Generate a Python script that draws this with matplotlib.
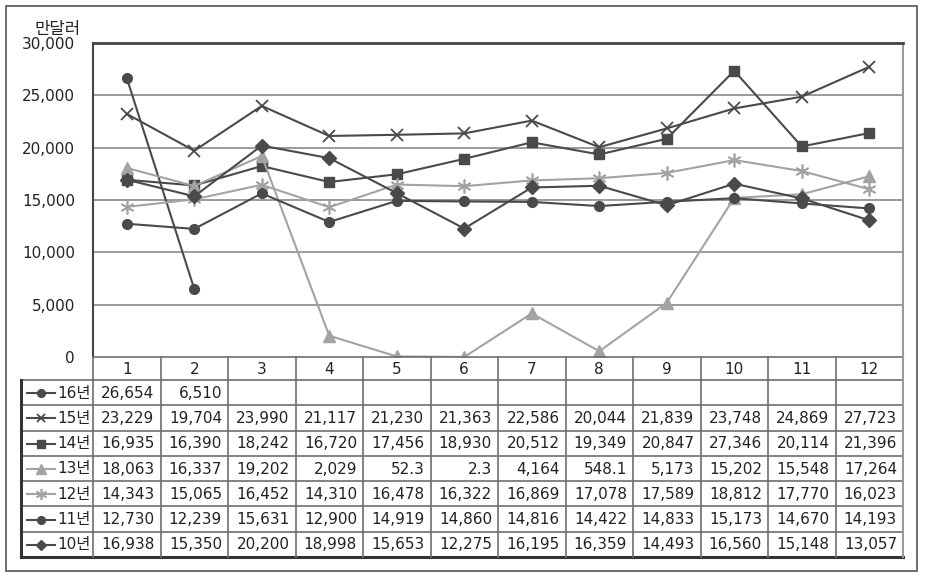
import numpy as np
import matplotlib.pyplot as plt
from matplotlib.patches import Rectangle

plt.rcParams['font.family'] = ['DejaVu Sans', 'Noto Sans CJK KR']

# ---- data ----
months = ['1', '2', '3', '4', '5', '6', '7', '8', '9', '10', '11', '12']
labels = ['16년', '15년', '14년', '13년', '12년', '11년', '10년']
y16 = [26654, 6510]
y15 = [23229, 19704, 23990, 21117, 21230, 21363, 22586, 20044, 21839, 23748, 24869, 27723]
y14 = [16935, 16390, 18242, 16720, 17456, 18930, 20512, 19349, 20847, 27346, 20114, 21396]
y13 = [18063, 16337, 19202, 2029, 52.3, 2.3, 4164, 548.1, 5173, 15202, 15548, 17264]
y12 = [14343, 15065, 16452, 14310, 16478, 16322, 16869, 17078, 17589, 18812, 17770, 16023]
y11 = [12730, 12239, 15631, 12900, 14919, 14860, 14816, 14422, 14833, 15173, 14670, 14193]
y10 = [16938, 15350, 20200, 18998, 15653, 12275, 16195, 16359, 14493, 16560, 15148, 13057]
txt13 = ['18,063', '16,337', '19,202', '2,029', '52.3', '2.3', '4,164', '548.1',
         '5,173', '15,202', '15,548', '17,264']

series = [y16, y15, y14, y13, y12, y11, y10]
dark = '#4a4a4a'
light = '#a3a3a3'
styles = [
    dict(color=dark, marker='o', ms=7),
    dict(color=dark, marker='x', ms=8, mew=1.3),
    dict(color=dark, marker='s', ms=7),
    dict(color=light, marker='^', ms=9),
    dict(color=light, marker=(6, 2, 0), ms=10, mew=1.2),
    dict(color=dark, marker='o', ms=7),
    dict(color=dark, marker='D', ms=7),
]

W, H = 927, 584
fig = plt.figure(figsize=(W / 100, H / 100), dpi=100)

def px_axes(x0, y0, x1, y1):
    return fig.add_axes([x0 / W, 1 - y1 / H, (x1 - x0) / W, (y1 - y0) / H])

# outer frame
fig.patches.append(Rectangle((6 / W, 1 - 571 / H), 911 / W, 565 / H, transform=fig.transFigure,
                             fill=False, edgecolor='#555555', lw=1.2))

fs = 11
tcol = '#222222'

# ---- line chart ----
ax = px_axes(93, 43, 903, 357)
ax.set_xlim(0.5, 12.5)
ax.set_ylim(0, 30000)
ax.set_yticks(np.arange(0, 30001, 5000))
ax.set_yticklabels(['{:,}'.format(v) for v in range(0, 30001, 5000)], fontsize=fs, color=tcol)
ax.tick_params(axis='y', length=0, pad=13)
ax.set_xticks([])
for v in range(5000, 30000, 5000):
    ax.axhline(v, color='#8a8a8a', lw=1.2, zorder=1)
ax.spines['top'].set_color('#444444')
ax.spines['top'].set_linewidth(2)
ax.spines['left'].set_color('#444444')
ax.spines['left'].set_linewidth(1.5)
ax.spines['right'].set_color('#999999')
ax.spines['right'].set_linewidth(1.5)
ax.spines['bottom'].set_visible(False)
for ys, st in zip(series, styles):
    x = np.arange(1, len(ys) + 1)
    ax.plot(x, ys, lw=1.5, zorder=3, **st)
fig.text(58 / W, 1 - 29 / H, '만달러', fontsize=12, ha='center', va='center', color=tcol)

# ---- data table ----
tx = px_axes(21, 357, 903, 557)
legw = 72 / 67.5
tx.set_xlim(-legw, 12)
hdr = 23
rowh = (200 - hdr) / 7
tx.set_ylim(200, 0)
tx.axis('off')
grid_c = '#6e6e6e'
# horizontal lines
tx.plot([0, 12], [0, 0], color=grid_c, lw=1.2, clip_on=False)
for i in range(1, 8):
    yy = hdr + rowh * (i - 1)
    tx.plot([-legw, 12], [yy, yy], color=grid_c, lw=1.2, clip_on=False)
tx.plot([-legw, 12], [200, 200], color='#333333', lw=2.2, clip_on=False)
# vertical lines
for j in range(0, 13):
    tx.plot([j, j], [0, 200], color=grid_c, lw=1.2, clip_on=False)
tx.plot([-legw, -legw], [hdr, 200], color='#333333', lw=2.2, clip_on=False)
tx.plot([12, 12], [0, 200], color='#999999', lw=1.5, clip_on=False)

for j, m in enumerate(months):
    tx.text(j + 0.5, hdr / 2 + 1, m, ha='center', va='center', fontsize=fs, color=tcol)

pad = 6 / 67.5
for i, (lab, ys, st) in enumerate(zip(labels, series, styles)):
    yc = hdr + rowh * i + rowh / 2 + 0.5
    # legend key
    kst = dict(st)
    kst['ms'] = st['ms'] * 0.8
    tx.plot([-legw + 0.09, -legw + 0.5], [yc, yc], lw=1.5, color=st['color'], clip_on=False)
    tx.plot([-legw + 0.3], [yc], clip_on=False, ls='none', **kst)
    tx.text(-0.03, yc, lab, ha='right', va='center', fontsize=fs, color=tcol)
    for j, v in enumerate(ys):
        if lab == '13년':
            s = txt13[j]
        else:
            s = '{:,}'.format(int(v))
        tx.text(j + 1 - pad, yc, s, ha='right', va='center', fontsize=fs, color=tcol)

fig.savefig('out.png', dpi=100)
